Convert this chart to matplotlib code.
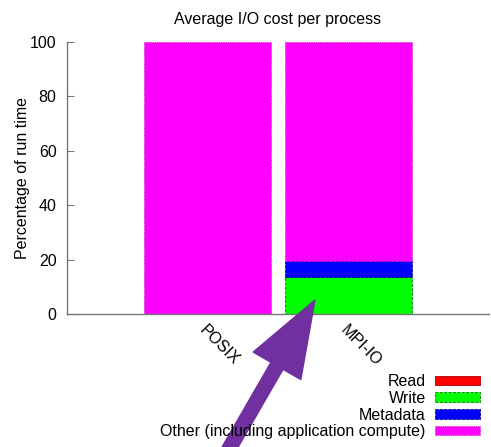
import matplotlib
matplotlib.use("Agg")
import matplotlib.pyplot as plt
from matplotlib.patches import FancyArrow
from matplotlib.transforms import IdentityTransform

plt.rcParams['font.family'] = ['Liberation Sans', 'DejaVu Sans']

interfaces = ["POSIX", "MPI-IO"]
read_pct = [0.0, 0.0]
write_pct = [0.0, 13.5]
meta_pct = [0.0, 6.0]
other_pct = [100.0, 80.5]

series_names = ["Read", "Write", "Metadata", "Other (including application compute)"]
series_colors = ["#ff0000", "#00ff00", "#0000ff", "#ff00ff"]
series_edges = ["#aa0000", "#007700", "#000088", "#aa00aa"]
series_styles = ["-", "--", "--", ":"]
yticks = [0, 20, 40, 60, 80, 100]

FS = 11.5

fig = plt.figure(figsize=(4.91, 4.47), dpi=100)
ax = fig.add_axes([67 / 491, 1 - 314 / 447, 1 - 67 / 491 - 0.004, (314 - 42) / 447])

x = list(range(len(interfaces)))
bottom = [0.0] * len(interfaces)
handles = []
for vals, name, col, ec, ls in zip([read_pct, write_pct, meta_pct, other_pct],
                                   series_names, series_colors, series_edges, series_styles):
    h = ax.bar(x, vals, width=0.9, bottom=bottom, color=col, edgecolor=ec,
               linewidth=0.6, linestyle=ls, label=name)
    handles.append(h)
    bottom = [b + v for b, v in zip(bottom, vals)]

ax.set_xlim(-1, 2)
ax.set_ylim(0, 100)
ax.set_yticks(yticks)
ax.set_xticks(x)
ax.set_xticklabels(interfaces, rotation=-45, ha='left', va='top', rotation_mode='anchor', fontsize=FS)
ax.tick_params(axis='x', length=0, pad=6)
ax.tick_params(axis='y', direction='in', length=5, width=0.8, color='#777777', labelsize=FS, pad=7.5)
for s in ['top', 'right']:
    ax.spines[s].set_visible(False)
for s in ['left', 'bottom']:
    ax.spines[s].set_color('#777777')
    ax.spines[s].set_linewidth(1.0)

ax.set_title("Average I/O cost per process", fontsize=FS, pad=13)
ax.set_ylabel("Percentage of run time", fontsize=FS, labelpad=0)

fig.legend(handles=handles, labels=series_names, loc='upper right',
           bbox_to_anchor=(480 / 491, 1 - 374 / 447), frameon=False, markerfirst=False,
           fontsize=FS, handlelength=2.8, handleheight=0.55, labelspacing=0.11,
           handletextpad=0.6, borderpad=0, borderaxespad=0)

# purple pointer toward the MPI-IO write segment
tip_x, tip_y = 315.0, 447 - 300.0
ux, uy = 0.5, 0.866
length = 230.0
arrow = FancyArrow(tip_x - ux * length, tip_y - uy * length, ux * length, uy * length,
                   width=14, head_width=55, head_length=76, length_includes_head=True,
                   color='#7030a0', transform=IdentityTransform())
fig.add_artist(arrow)

fig.savefig("out.png", dpi=100)
